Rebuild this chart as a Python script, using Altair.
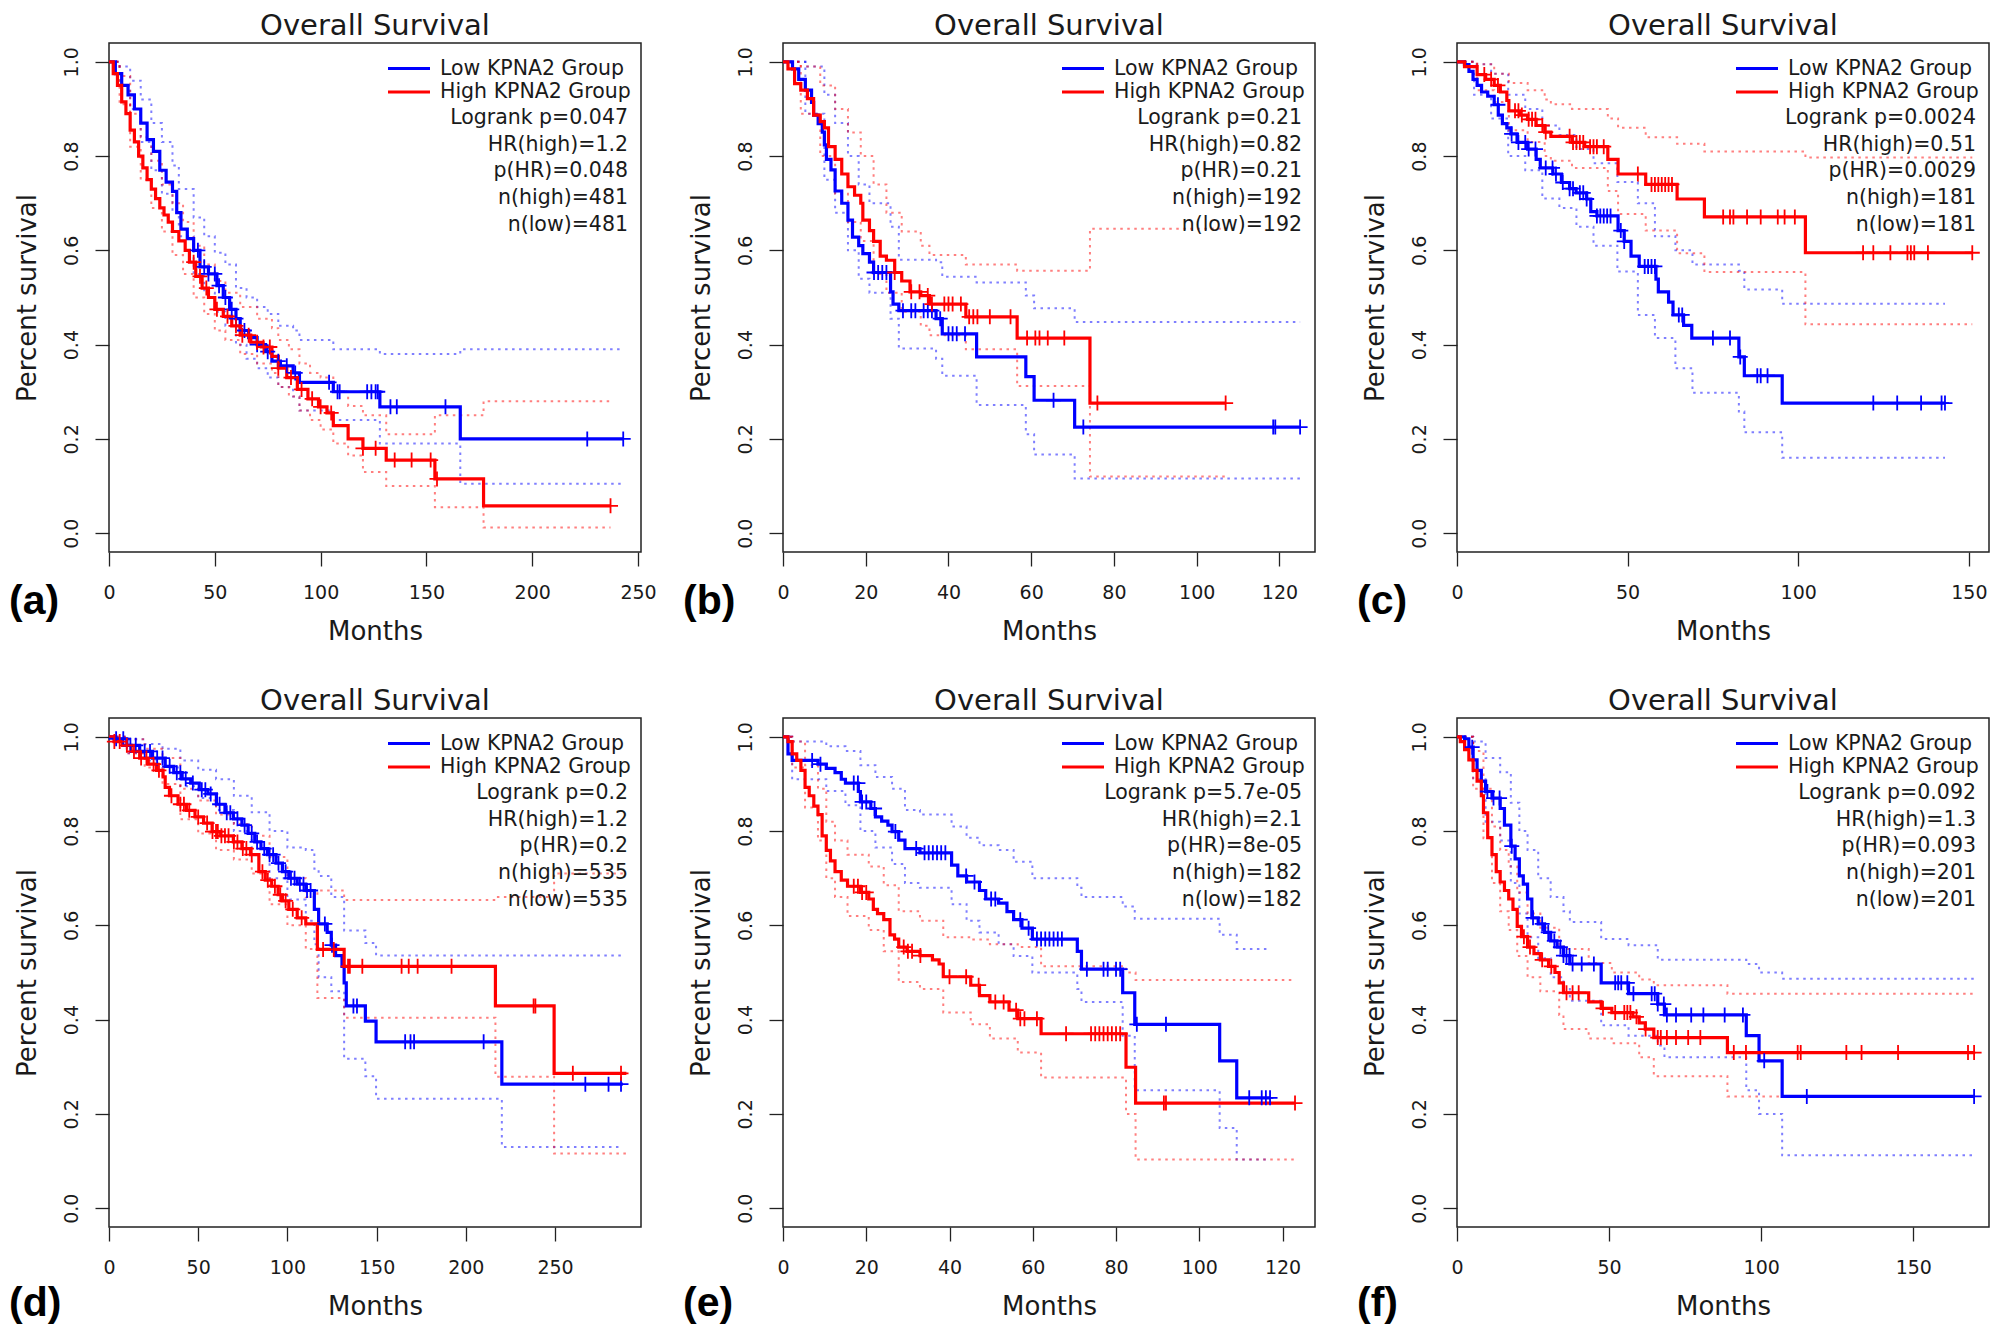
import altair as alt
import pandas as pd

# ------------------------------------------------------------------ data
# Panel (a)
A_LOW_T = [0, 3, 6, 9, 12, 15, 18, 21, 24, 27, 30, 32, 34, 37, 40, 43, 47, 51, 54, 57, 60, 62, 66, 70, 74, 77, 81, 87, 90, 106, 128, 166]
A_LOW_S = [1.0, 0.975, 0.95, 0.93, 0.90, 0.87, 0.835, 0.81, 0.77, 0.745, 0.725, 0.68, 0.645, 0.625, 0.60, 0.565, 0.55, 0.525, 0.50, 0.475, 0.455, 0.43, 0.415, 0.40, 0.385, 0.365, 0.355, 0.34, 0.32, 0.30, 0.268, 0.20]
A_LOW_END = 243
A_LOW_CENS = [42, 45, 47, 50, 52, 55, 58, 60, 64, 70, 75, 80, 84, 88, 104, 108, 109, 122, 124, 126, 127, 133, 136, 159, 226, 243]
A_LOW_CI_T = [0, 5, 10, 15, 20, 25, 30, 33, 40, 45, 50, 55, 60, 65, 70, 75, 80, 87, 90, 106, 128, 166]
A_LOW_CI_UP = [1.0, 0.99, 0.96, 0.92, 0.87, 0.83, 0.78, 0.73, 0.67, 0.63, 0.595, 0.57, 0.52, 0.50, 0.48, 0.465, 0.44, 0.43, 0.41, 0.39, 0.38, 0.39]
A_LOW_CI_LO = [1.0, 0.95, 0.90, 0.83, 0.77, 0.72, 0.68, 0.63, 0.55, 0.51, 0.47, 0.44, 0.40, 0.37, 0.35, 0.33, 0.31, 0.29, 0.26, 0.24, 0.19, 0.105]
A_HIGH_T = [0, 2, 4, 6, 8, 10, 12, 14, 16, 18, 20, 22, 24, 26, 28, 30, 33, 36, 38, 41, 44, 47, 50, 54, 58, 62, 67, 72, 77, 80, 84, 89, 94, 99, 103, 106, 113, 120, 131, 154, 177]
A_HIGH_S = [1.0, 0.975, 0.95, 0.915, 0.89, 0.855, 0.83, 0.80, 0.775, 0.75, 0.73, 0.71, 0.69, 0.675, 0.66, 0.64, 0.62, 0.60, 0.575, 0.545, 0.52, 0.50, 0.475, 0.46, 0.44, 0.42, 0.405, 0.395, 0.375, 0.35, 0.33, 0.305, 0.285, 0.268, 0.255, 0.228, 0.20, 0.18, 0.155, 0.115, 0.058]
A_HIGH_END = 237
A_HIGH_CENS = [40, 43, 46, 51, 56, 60, 63, 66, 70, 73, 76, 80, 86, 91, 96, 100, 105, 120, 126, 135, 143, 152, 155, 237]
A_HIGH_CI_T = [0, 5, 10, 15, 20, 25, 30, 35, 40, 45, 50, 55, 62, 70, 77, 80, 85, 90, 95, 100, 106, 113, 120, 131, 154, 177]
A_HIGH_CI_UP = [1.0, 0.97, 0.89, 0.84, 0.79, 0.74, 0.70, 0.66, 0.61, 0.57, 0.535, 0.51, 0.48, 0.455, 0.435, 0.41, 0.39, 0.36, 0.34, 0.33, 0.30, 0.27, 0.25, 0.21, 0.25, 0.28]
A_HIGH_CI_LO = [1.0, 0.91, 0.82, 0.75, 0.69, 0.64, 0.59, 0.55, 0.50, 0.465, 0.43, 0.41, 0.38, 0.36, 0.34, 0.31, 0.29, 0.26, 0.24, 0.22, 0.19, 0.165, 0.13, 0.10, 0.055, 0.012]
A_STATS = ["Logrank p=0.047", "HR(high)=1.2", "p(HR)=0.048", "n(high)=481", "n(low)=481"]
A_XMAX = 251.4
A_XTICKS = [0, 50, 100, 150, 200, 250]

# Panel (b)
B_LOW_T = [0, 2.3, 3.8, 5.4, 6.9, 7.4, 8.5, 9.5, 10, 10.5, 11.6, 12.6, 14.2, 15.7, 16.8, 18.3, 19.3, 20.9, 21.9, 26, 26.6, 28, 37, 38.5, 46.8, 58.7, 60.7, 70.5]
B_LOW_S = [1.0, 0.985, 0.963, 0.94, 0.914, 0.887, 0.869, 0.851, 0.824, 0.793, 0.771, 0.726, 0.70, 0.664, 0.628, 0.61, 0.593, 0.575, 0.553, 0.512, 0.486, 0.472, 0.455, 0.423, 0.374, 0.332, 0.282, 0.225]
B_LOW_END = 125
B_LOW_CENS = [22, 23, 24, 25, 29, 31, 32, 34, 35, 36, 38, 40, 41, 42, 44, 65.4, 72.6, 118.5, 119, 125]
B_LOW_CI_T = [0, 5.4, 10, 12.6, 15.7, 18.3, 20.9, 26, 28, 37, 38.5, 46.8, 58.7, 60.7, 70.5]
B_LOW_CI_UP = [1.0, 0.99, 0.93, 0.87, 0.80, 0.74, 0.70, 0.65, 0.58, 0.575, 0.544, 0.532, 0.504, 0.477, 0.448]
B_LOW_CI_LO = [1.0, 0.89, 0.75, 0.68, 0.60, 0.54, 0.51, 0.455, 0.392, 0.37, 0.334, 0.272, 0.21, 0.167, 0.116]
B_HIGH_T = [0, 1.2, 2.8, 4.3, 5.9, 7.4, 9, 10, 11, 12.6, 14.2, 15.7, 17.3, 18.8, 19.3, 20.9, 21.9, 23.5, 25, 27, 28.7, 30.7, 33.3, 35.4, 44.2, 56.6, 74.2]
B_HIGH_S = [1.0, 0.985, 0.954, 0.94, 0.922, 0.887, 0.873, 0.86, 0.82, 0.793, 0.762, 0.735, 0.717, 0.70, 0.664, 0.642, 0.619, 0.588, 0.579, 0.553, 0.535, 0.512, 0.504, 0.486, 0.459, 0.414, 0.276]
B_HIGH_END = 107
B_HIGH_CENS = [27, 31, 33, 35, 36, 39, 40, 41, 43, 45, 46, 47, 50, 55, 59, 61, 62, 64, 68, 76, 107]
B_HIGH_CI_T = [0, 4.3, 9, 12.6, 15.7, 18.8, 21.9, 25, 28.7, 33.3, 35.4, 44.2, 56.6, 74.2]
B_HIGH_CI_UP = [1.0, 0.99, 0.95, 0.90, 0.85, 0.80, 0.74, 0.68, 0.64, 0.61, 0.59, 0.57, 0.557, 0.646]
B_HIGH_CI_LO = [1.0, 0.89, 0.80, 0.72, 0.66, 0.62, 0.55, 0.51, 0.47, 0.44, 0.42, 0.39, 0.312, 0.12]
B_STATS = ["Logrank p=0.21", "HR(high)=0.82", "p(HR)=0.21", "n(high)=192", "n(low)=192"]
B_XMAX = 128.6
B_XTICKS = [0, 20, 40, 60, 80, 100, 120]

# Panel (c)
C_LOW_T = [0, 2.2, 3.5, 4.7, 5.9, 7.2, 9, 10.9, 12.1, 13.3, 14.6, 15.8, 17.6, 20.7, 23.2, 24.4, 28.1, 30.6, 33, 34.9, 38, 39.2, 41, 47.2, 49, 51, 53.4, 58.3, 59, 62, 63.3, 66.4, 68.8, 82.6, 84.2, 95.3]
C_LOW_S = [1.0, 0.994, 0.98, 0.963, 0.95, 0.936, 0.927, 0.909, 0.887, 0.869, 0.86, 0.847, 0.829, 0.815, 0.793, 0.775, 0.762, 0.744, 0.731, 0.722, 0.709, 0.682, 0.673, 0.642, 0.619, 0.588, 0.566, 0.539, 0.512, 0.49, 0.463, 0.441, 0.414, 0.374, 0.334, 0.276]
C_LOW_END = 143
C_LOW_CENS = [12, 16, 18, 20, 21, 23, 26, 28, 29, 31, 33, 34, 36, 37, 38, 41, 42, 43, 44, 45, 48, 49, 55, 56, 57, 58, 65, 66, 75, 80, 83, 88, 89, 91, 122, 129, 136, 142, 143]
C_LOW_CI_T = [0, 5, 10, 15, 20, 25, 30, 35, 40, 47, 53, 58, 64, 69, 82.6, 84.2, 95.3]
C_LOW_CI_UP = [1.0, 0.995, 0.975, 0.93, 0.90, 0.865, 0.845, 0.815, 0.785, 0.745, 0.70, 0.63, 0.60, 0.57, 0.557, 0.517, 0.487]
C_LOW_CI_LO = [1.0, 0.93, 0.88, 0.80, 0.77, 0.71, 0.69, 0.65, 0.61, 0.555, 0.463, 0.414, 0.35, 0.298, 0.258, 0.214, 0.16]
C_HIGH_T = [0, 2.2, 5.9, 8.4, 10.9, 12.7, 14.6, 15.2, 18.3, 20.7, 23.2, 25.7, 27.5, 33.7, 37.4, 44.2, 47.2, 55.3, 64.5, 72.5, 102.1]
C_HIGH_S = [1.0, 0.99, 0.973, 0.963, 0.95, 0.936, 0.918, 0.896, 0.887, 0.878, 0.865, 0.851, 0.842, 0.829, 0.82, 0.793, 0.762, 0.74, 0.709, 0.671, 0.595]
C_HIGH_END = 151
C_HIGH_CENS = [8, 10, 12, 17, 18, 19, 21, 22, 23, 25, 26, 33, 34, 35, 36, 37, 39, 40, 41, 43, 53, 57, 58, 59, 60, 61, 62, 63, 78, 80, 81, 85, 89, 94, 96, 99, 119, 122, 127, 132, 133, 134, 138, 151]
C_HIGH_CI_T = [0, 5.9, 10.9, 15.2, 20.7, 25.7, 27.5, 33.7, 44.2, 47.2, 55.3, 64.5, 72.5, 102.1]
C_HIGH_CI_UP = [1.0, 0.995, 0.975, 0.955, 0.94, 0.92, 0.91, 0.90, 0.88, 0.86, 0.84, 0.826, 0.81, 0.797]
C_HIGH_CI_LO = [1.0, 0.94, 0.915, 0.855, 0.83, 0.80, 0.79, 0.775, 0.726, 0.677, 0.642, 0.594, 0.554, 0.443]
C_STATS = ["Logrank p=0.0024", "HR(high)=0.51", "p(HR)=0.0029", "n(high)=181", "n(low)=181"]
C_XMAX = 155.9
C_XTICKS = [0, 50, 100, 150]

# Panel (d)
D_LOW_T = [0, 2.9, 10, 17.2, 24.4, 31.5, 36.3, 41, 45.8, 50.6, 55.4, 60.2, 65, 69.7, 74.5, 78, 81.7, 85.2, 88.8, 93.6, 97.2, 100.8, 105.5, 110.3, 115.1, 117.5, 122.3, 124.6, 127, 130.6, 131.8, 133, 143.7, 149.7, 220.2]
D_LOW_S = [1.0, 0.996, 0.982, 0.969, 0.955, 0.9375, 0.924, 0.911, 0.902, 0.888, 0.879, 0.857, 0.839, 0.826, 0.8125, 0.795, 0.777, 0.763, 0.75, 0.732, 0.714, 0.70, 0.6875, 0.674, 0.634, 0.603, 0.585, 0.558, 0.536, 0.513, 0.478, 0.429, 0.397, 0.353, 0.263]
D_LOW_END = 288
D_LOW_CENS = [4, 8, 12, 15, 20, 23, 27, 30, 34, 38, 40, 43, 47, 52, 54, 57, 62, 66, 68, 72, 76, 80, 83, 87, 90, 92, 95, 99, 102, 104, 107, 109, 111, 113, 121, 125, 137, 139, 166, 169, 171, 210, 267, 280, 287]
D_LOW_CI_T = [0, 10, 20, 30, 40, 50, 60, 70, 80, 90, 100, 110.3, 115.1, 117.5, 124.6, 131.8, 143.7, 149.7, 220.2]
D_LOW_CI_UP = [1.0, 0.995, 0.985, 0.975, 0.95, 0.93, 0.91, 0.875, 0.84, 0.80, 0.765, 0.76, 0.72, 0.705, 0.66, 0.589, 0.5625, 0.536, 0.536]
D_LOW_CI_LO = [1.0, 0.965, 0.95, 0.935, 0.895, 0.87, 0.845, 0.80, 0.75, 0.70, 0.655, 0.61, 0.56, 0.49, 0.46, 0.317, 0.28, 0.232, 0.13]
D_HIGH_T = [0, 2.9, 7.6, 12.4, 17.2, 22, 26.7, 30.3, 31.5, 33.9, 38.7, 43.5, 48.2, 53, 57.8, 62.6, 69.7, 74.5, 79.3, 84, 87.6, 91.2, 94.8, 97.2, 100.8, 105.5, 110.3, 116.8, 131.8, 216.6, 249.5]
D_HIGH_S = [1.0, 0.99, 0.982, 0.969, 0.955, 0.942, 0.929, 0.915, 0.893, 0.875, 0.857, 0.844, 0.83, 0.817, 0.799, 0.79, 0.777, 0.763, 0.75, 0.714, 0.696, 0.683, 0.665, 0.652, 0.634, 0.616, 0.603, 0.549, 0.513, 0.429, 0.286]
D_HIGH_END = 290
D_HIGH_CENS = [3, 6, 10, 14, 18, 21, 25, 28, 35, 40, 42, 45, 50, 55, 58, 60, 61, 63, 65, 67, 70, 72, 75, 77, 80, 86, 89, 93, 96, 99, 103, 108, 120, 126, 134, 135, 142, 164, 168, 173, 192, 238, 239, 260, 287]
D_HIGH_CI_T = [0, 10, 20, 30, 40, 50, 60, 70, 80, 90, 100, 110.3, 116.8, 131.8, 216.6, 249.5]
D_HIGH_CI_UP = [1.0, 0.995, 0.975, 0.955, 0.89, 0.865, 0.835, 0.815, 0.79, 0.745, 0.70, 0.66, 0.674, 0.654, 0.66, 0.71]
D_HIGH_CI_LO = [1.0, 0.965, 0.935, 0.90, 0.825, 0.795, 0.76, 0.74, 0.71, 0.645, 0.60, 0.55, 0.446, 0.404, 0.279, 0.116]
D_STATS = ["Logrank p=0.2", "HR(high)=1.2", "p(HR)=0.2", "n(high)=535", "n(low)=535"]
D_XMAX = 298.2
D_XTICKS = [0, 50, 100, 150, 200, 250]

# Panel (e)
E_LOW_T = [0, 1.2, 2.2, 8.4, 10.4, 12.5, 14, 15, 18.1, 18.6, 21.1, 22.2, 23.7, 25.2, 26.2, 27.8, 29.3, 32.9, 40.5, 42, 44.1, 47.2, 48.7, 51.8, 53.8, 55.4, 57.4, 59.9, 70.7, 71.7, 81.6, 84.5, 104.9, 109]
E_LOW_S = [1.0, 0.964, 0.95, 0.942, 0.933, 0.924, 0.91, 0.902, 0.884, 0.862, 0.848, 0.83, 0.821, 0.8125, 0.799, 0.781, 0.763, 0.754, 0.728, 0.705, 0.692, 0.674, 0.656, 0.647, 0.629, 0.612, 0.594, 0.571, 0.545, 0.507, 0.457, 0.39, 0.3125, 0.234]
E_LOW_END = 117
E_LOW_CENS = [7, 9, 17, 18, 19, 20, 22, 27, 32, 34, 35, 36, 37, 38, 39, 44, 46, 50, 51, 57, 59, 61, 62, 63, 64, 65, 66, 67, 73, 77, 78, 80, 81, 85, 92, 112, 115, 116, 117]
E_LOW_CI_T = [0, 2.2, 10.4, 15, 18.6, 22.2, 26.2, 29.3, 32.9, 40.5, 44.1, 47.2, 51.8, 55.4, 59.9, 70.7, 71.7, 81.6, 84.5, 104.9, 109]
E_LOW_CI_UP = [1.0, 0.99, 0.98, 0.97, 0.94, 0.915, 0.89, 0.845, 0.835, 0.81, 0.786, 0.77, 0.76, 0.735, 0.70, 0.68, 0.66, 0.64, 0.614, 0.58, 0.55]
E_LOW_CI_LO = [1.0, 0.91, 0.885, 0.855, 0.80, 0.765, 0.73, 0.69, 0.68, 0.645, 0.61, 0.585, 0.56, 0.535, 0.50, 0.465, 0.4375, 0.366, 0.25, 0.17, 0.103]
E_HIGH_T = [0, 1.2, 2.2, 3.3, 4.3, 5.3, 6.3, 7.4, 8.4, 9.4, 10.4, 11.4, 12.5, 14, 15.5, 18.6, 20.6, 21.7, 22.7, 24.2, 25.7, 26.8, 27.8, 29.8, 32.9, 35.9, 37.5, 38.5, 45.1, 47.2, 49.7, 54.3, 56.4, 62, 82.4, 84.7]
E_HIGH_S = [1.0, 0.99, 0.964, 0.95, 0.929, 0.893, 0.875, 0.853, 0.835, 0.79, 0.759, 0.737, 0.714, 0.696, 0.683, 0.67, 0.656, 0.634, 0.625, 0.612, 0.58, 0.571, 0.554, 0.545, 0.536, 0.527, 0.518, 0.491, 0.473, 0.451, 0.4375, 0.42, 0.402, 0.37, 0.299, 0.223]
E_HIGH_END = 123
E_HIGH_CENS = [17, 18, 19, 20, 29, 30, 31, 33, 40, 44, 47, 51, 53, 56, 57, 58, 61, 68, 74, 75, 76, 77, 78, 79, 80, 81, 91.5, 92, 123]
E_HIGH_CI_T = [0, 2.2, 5.3, 8.4, 10.4, 12.5, 15.5, 20.6, 24.2, 27.8, 32.9, 38.5, 45.1, 49.7, 56.4, 62, 82.4, 84.7]
E_HIGH_CI_UP = [1.0, 0.99, 0.94, 0.89, 0.82, 0.78, 0.75, 0.725, 0.685, 0.63, 0.61, 0.575, 0.57, 0.56, 0.554, 0.513, 0.50, 0.484]
E_HIGH_CI_LO = [1.0, 0.935, 0.85, 0.78, 0.70, 0.66, 0.62, 0.59, 0.545, 0.48, 0.465, 0.415, 0.39, 0.36, 0.33, 0.277, 0.20, 0.103]
E_STATS = ["Logrank p=5.7e-05", "HR(high)=2.1", "p(HR)=8e-05", "n(high)=182", "n(low)=182"]
E_XMAX = 127.8
E_XTICKS = [0, 20, 40, 60, 80, 100, 120]

# Panel (f)
F_LOW_T = [0, 2.5, 3.9, 5.3, 6.6, 8, 9.4, 11.5, 14.2, 15.6, 17.7, 19.1, 20.5, 21.8, 23.2, 24.6, 26.7, 28.8, 30.8, 32.9, 35, 37.1, 47.4, 56.4, 66, 68.2, 95.1, 99.3, 106.9]
F_LOW_S = [1.0, 0.996, 0.978, 0.951, 0.929, 0.906, 0.884, 0.87, 0.848, 0.8125, 0.768, 0.741, 0.705, 0.6875, 0.656, 0.616, 0.603, 0.585, 0.567, 0.554, 0.536, 0.518, 0.478, 0.455, 0.433, 0.41, 0.366, 0.3125, 0.237]
F_LOW_END = 170
F_LOW_CENS = [5, 10, 12, 14, 18, 25, 28, 30, 32, 34, 35, 36, 37, 38, 41, 45, 52, 53, 54, 56, 58, 64, 65, 66, 68, 69, 72, 77, 81, 88, 94, 101, 115, 170]
F_LOW_CI_T = [0, 5.3, 9.4, 14.2, 17.7, 20.5, 23.2, 26.7, 30.8, 35, 37.1, 47.4, 56.4, 66, 68.2, 95.1, 99.3, 106.9]
F_LOW_CI_UP = [1.0, 0.99, 0.955, 0.925, 0.86, 0.80, 0.76, 0.70, 0.66, 0.63, 0.607, 0.571, 0.558, 0.527, 0.527, 0.518, 0.50, 0.487]
F_LOW_CI_LO = [1.0, 0.91, 0.82, 0.78, 0.69, 0.625, 0.575, 0.53, 0.49, 0.465, 0.44, 0.388, 0.366, 0.345, 0.32, 0.25, 0.20, 0.112]
F_HIGH_T = [0, 1.1, 2.5, 3.9, 5.3, 6.6, 8, 8.7, 10.1, 11.5, 12.9, 14.2, 15.6, 17, 18.4, 19.8, 21.2, 23.2, 25.3, 27.4, 30.1, 32.2, 33.6, 35, 43.3, 47.4, 50.9, 57.8, 59.9, 61.9, 64.7, 88.9]
F_HIGH_S = [1.0, 0.99, 0.973, 0.951, 0.929, 0.906, 0.875, 0.839, 0.786, 0.75, 0.714, 0.692, 0.674, 0.656, 0.634, 0.598, 0.576, 0.554, 0.54, 0.527, 0.513, 0.5, 0.478, 0.457, 0.4375, 0.424, 0.415, 0.406, 0.393, 0.38, 0.362, 0.33]
F_HIGH_END = 170
F_HIGH_CENS = [22, 24, 28, 31, 36, 38, 40, 48, 52, 55, 56, 57, 59, 62, 66, 67, 69, 72, 76, 80, 91, 95, 112, 113, 128, 133, 145, 168, 170]
F_HIGH_CI_T = [0, 5.3, 8.7, 11.5, 14.2, 17, 19.8, 23.2, 27.4, 33.6, 35, 43.3, 50.9, 59.9, 64.7, 88.9]
F_HIGH_CI_UP = [1.0, 0.97, 0.89, 0.81, 0.76, 0.725, 0.67, 0.625, 0.595, 0.56, 0.55, 0.52, 0.50, 0.485, 0.473, 0.455]
F_HIGH_CI_LO = [1.0, 0.89, 0.785, 0.69, 0.63, 0.59, 0.535, 0.49, 0.46, 0.41, 0.38, 0.36, 0.35, 0.32, 0.28, 0.237]
F_STATS = ["Logrank p=0.092", "HR(high)=1.3", "p(HR)=0.093", "n(high)=201", "n(low)=201"]
F_XMAX = 174.9
F_XTICKS = [0, 50, 100, 150]

LEGEND_LABELS = ["Low KPNA2 Group", "High KPNA2 Group"]
PANEL_TITLE = "Overall Survival"
Y_TICKS = [0.0, 0.2, 0.4, 0.6, 0.8, 1.0]

# ------------------------------------------------------------------ style
W, H = 532, 509
BLUE, RED = "#0000FF", "#FF0000"
FONT = "DejaVu Sans"
LABEL_FONT = "Liberation Sans"
TXT = "#1a1a1a"
PLUS = "M-1,0L1,0M0,-1L0,1"
LEG_Y = [25.5, 49, 75, 101.5, 128, 155, 182]

PANELS = [
    dict(letter="(a)", row=0, stats=A_STATS, xmax=A_XMAX, xticks=A_XTICKS,
         low=(A_LOW_T, A_LOW_S, A_LOW_END, A_LOW_CENS, A_LOW_CI_T, A_LOW_CI_UP, A_LOW_CI_LO),
         high=(A_HIGH_T, A_HIGH_S, A_HIGH_END, A_HIGH_CENS, A_HIGH_CI_T, A_HIGH_CI_UP, A_HIGH_CI_LO)),
    dict(letter="(b)", row=0, stats=B_STATS, xmax=B_XMAX, xticks=B_XTICKS,
         low=(B_LOW_T, B_LOW_S, B_LOW_END, B_LOW_CENS, B_LOW_CI_T, B_LOW_CI_UP, B_LOW_CI_LO),
         high=(B_HIGH_T, B_HIGH_S, B_HIGH_END, B_HIGH_CENS, B_HIGH_CI_T, B_HIGH_CI_UP, B_HIGH_CI_LO)),
    dict(letter="(c)", row=0, stats=C_STATS, xmax=C_XMAX, xticks=C_XTICKS,
         low=(C_LOW_T, C_LOW_S, C_LOW_END, C_LOW_CENS, C_LOW_CI_T, C_LOW_CI_UP, C_LOW_CI_LO),
         high=(C_HIGH_T, C_HIGH_S, C_HIGH_END, C_HIGH_CENS, C_HIGH_CI_T, C_HIGH_CI_UP, C_HIGH_CI_LO)),
    dict(letter="(d)", row=1, stats=D_STATS, xmax=D_XMAX, xticks=D_XTICKS,
         low=(D_LOW_T, D_LOW_S, D_LOW_END, D_LOW_CENS, D_LOW_CI_T, D_LOW_CI_UP, D_LOW_CI_LO),
         high=(D_HIGH_T, D_HIGH_S, D_HIGH_END, D_HIGH_CENS, D_HIGH_CI_T, D_HIGH_CI_UP, D_HIGH_CI_LO)),
    dict(letter="(e)", row=1, stats=E_STATS, xmax=E_XMAX, xticks=E_XTICKS,
         low=(E_LOW_T, E_LOW_S, E_LOW_END, E_LOW_CENS, E_LOW_CI_T, E_LOW_CI_UP, E_LOW_CI_LO),
         high=(E_HIGH_T, E_HIGH_S, E_HIGH_END, E_HIGH_CENS, E_HIGH_CI_T, E_HIGH_CI_UP, E_HIGH_CI_LO)),
    dict(letter="(f)", row=1, stats=F_STATS, xmax=F_XMAX, xticks=F_XTICKS,
         low=(F_LOW_T, F_LOW_S, F_LOW_END, F_LOW_CENS, F_LOW_CI_T, F_LOW_CI_UP, F_LOW_CI_LO),
         high=(F_HIGH_T, F_HIGH_S, F_HIGH_END, F_HIGH_CENS, F_HIGH_CI_T, F_HIGH_CI_UP, F_HIGH_CI_LO)),
]


def level_at(ts, ss, t):
    v = ss[0]
    for ti, si in zip(ts, ss):
        if ti <= t:
            v = si
    return v


def curve_df(ts, ss, end):
    return pd.DataFrame({"t": list(ts) + [end], "s": list(ss) + [ss[-1]]})


def ci_df(ct, up, lo, end):
    rows = []
    for band, vals in (("upper", up), ("lower", lo)):
        for t, v in zip(ct, vals):
            rows.append({"t": t, "s": v, "band": band})
        rows.append({"t": end, "s": vals[-1], "band": band})
    return pd.DataFrame(rows)


def cens_df(ts, ss, cens):
    return pd.DataFrame({"t": cens, "s": [level_at(ts, ss, c) for c in cens]})


def make_panel(p):
    xs = alt.Scale(domain=[0, p["xmax"]], nice=False, zero=False)
    ys = alt.Scale(domain=[-0.04, 1.04], nice=False, zero=False)
    X = alt.X("t:Q", scale=xs, axis=alt.Axis(
        values=p["xticks"], format="d", title="Months", titleX=W / 2, titleY=79,
        titleBaseline="middle", titleAlign="center", labelPadding=17,
        labelFlush=False, labelOverlap=False))
    Y = alt.Y("s:Q", scale=ys, axis=alt.Axis(
        values=Y_TICKS, format=".1f", title="Percent survival", titleX=-82, titleY=H / 2,
        titleAngle=270, titleBaseline="middle", titleAlign="center",
        labelAngle=270, labelAlign="center", labelBaseline="bottom", labelPadding=14,
        labelFlush=False, labelOverlap=False))

    groups = (("low", BLUE), ("high", RED))
    layers = []
    for g, col in groups:
        ts, ss, end, cens, ct, up, lo = p[g]
        layers.append(alt.Chart(ci_df(ct, up, lo, end)).mark_line(
            interpolate="step-after", color=col, strokeWidth=2,
            strokeDash=[2.5, 4.5], opacity=0.5).encode(x=X, y=Y, detail="band:N"))
    for g, col in groups:
        ts, ss, end, cens, ct, up, lo = p[g]
        layers.append(alt.Chart(curve_df(ts, ss, end)).mark_line(
            interpolate="step-after", color=col, strokeWidth=3.2).encode(x=X, y=Y))
    for g, col in groups:
        ts, ss, end, cens, ct, up, lo = p[g]
        layers.append(alt.Chart(cens_df(ts, ss, cens)).mark_point(
            shape=PLUS, size=225, filled=False, color=col, strokeWidth=1.8,
            opacity=1).encode(x=X, y=Y))

    one = alt.Data(values=[{"k": 0}])
    for i, ((g, col), lab) in enumerate(zip(groups, LEGEND_LABELS)):
        layers.append(alt.Chart(one).mark_rule(color=col, strokeWidth=3.2).encode(
            x=alt.value(W - 253), x2=alt.value(W - 211), y=alt.value(LEG_Y[i])))
        layers.append(alt.Chart(one).mark_text(
            text=lab, align="left", baseline="middle", font=FONT, fontSize=20.5,
            color=TXT).encode(x=alt.value(W - 201), y=alt.value(LEG_Y[i])))
    for j, line in enumerate(p["stats"]):
        layers.append(alt.Chart(one).mark_text(
            text=line, align="right", baseline="middle", font=FONT, fontSize=20.5,
            color=TXT).encode(x=alt.value(W - 13), y=alt.value(LEG_Y[2 + j])))

    label_y = H + (50 if p["row"] == 0 else 77)
    layers.append(alt.Chart(one).mark_text(
        text=p["letter"], align="left", baseline="middle", font=LABEL_FONT, fontSize=41,
        fontWeight="bold", color="#000000").encode(x=alt.value(-100), y=alt.value(label_y)))

    return alt.layer(*layers).properties(
        width=W, height=H,
        title=alt.TitleParams(PANEL_TITLE, fontSize=29, font=FONT, fontWeight="normal",
                              color=TXT, offset=2, anchor="middle"))


charts = [make_panel(p) for p in PANELS]

chart = alt.concat(
    *charts, columns=3, bounds="flush", spacing={"row": 166, "column": 142}
).properties(
    padding={"left": 0, "top": 3, "right": 0, "bottom": 0}, background="white"
).configure_view(
    stroke="#222222", strokeWidth=1.5
).configure_axis(
    grid=False, domain=False, tickSize=14, tickColor="#222222", tickWidth=1.3,
    labelFont=FONT, labelFontSize=19, labelColor=TXT,
    titleFont=FONT, titleFontSize=26, titleFontWeight="normal", titleColor=TXT
)

chart.save("out.html", embed_options={"renderer": "svg", "actions": False})
